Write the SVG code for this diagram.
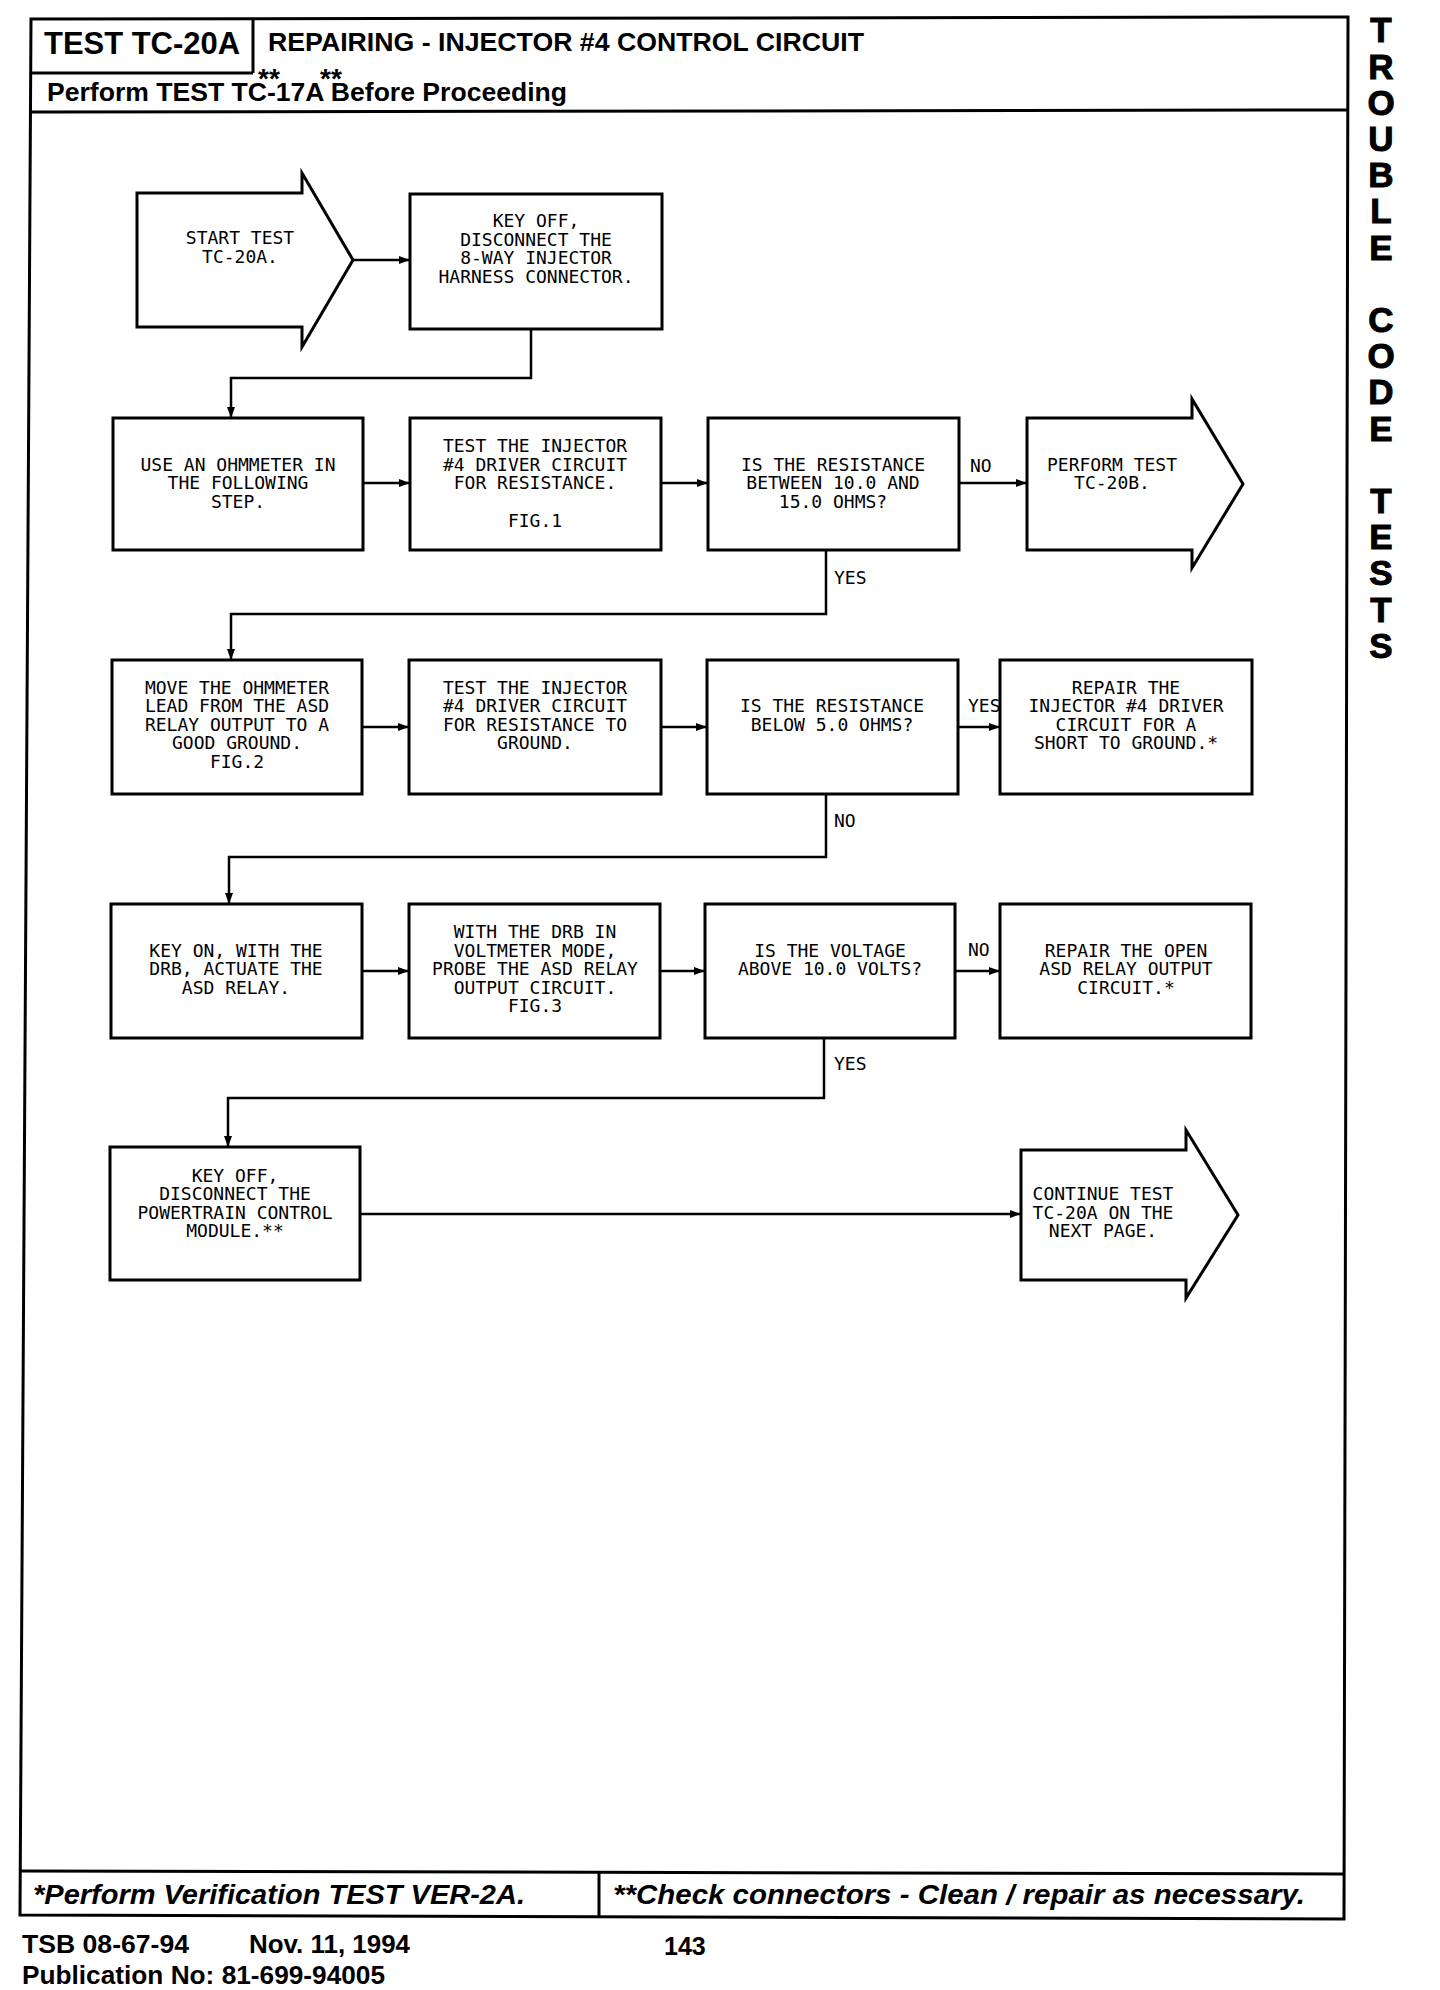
<svg xmlns="http://www.w3.org/2000/svg" width="1440" height="1990" viewBox="0 0 1440 1990">
<style>
.frame{fill:none;stroke:#000;stroke-width:3}
.box{fill:#fff;stroke:#000;stroke-width:3}
.conn{fill:none;stroke:#000;stroke-width:2.5}
.t{font-family:"DejaVu Sans Mono","Liberation Mono",monospace;font-size:18px;fill:#000;text-anchor:middle}
.lbl{font-family:"DejaVu Sans Mono","Liberation Mono",monospace;font-size:18px;fill:#000}
.hb{font-family:"Liberation Sans",Arial,sans-serif;font-weight:bold;fill:#000}
.fi{font-family:"Liberation Sans",Arial,sans-serif;font-weight:bold;font-style:italic;fill:#000;font-size:27px}
.side{font-family:"Liberation Sans",Arial,sans-serif;font-weight:bold;font-size:35px;fill:#000;text-anchor:middle;stroke:#000;stroke-width:1}
</style>
<defs>
<marker id="ah" markerUnits="userSpaceOnUse" markerWidth="11" markerHeight="8" refX="11" refY="4" orient="auto">
<path d="M0,0 L11,4 L0,8 z" fill="#000"/>
</marker>
</defs>
<rect width="1440" height="1990" fill="#fff"/>

<g id="frame">
<path class="frame" d="M31,19 L1348,17 L1344,1919 L20,1915 Z"/>
<line class="frame" x1="31" y1="73" x2="253" y2="73"/>
<line class="frame" x1="253" y1="19" x2="253" y2="73"/>
<line class="frame" x1="31" y1="112" x2="1348" y2="110"/>
<line class="frame" x1="20" y1="1871" x2="1344" y2="1874"/>
<line class="frame" x1="599" y1="1872" x2="599" y2="1917"/>
</g>

<g id="header">
<text class="hb" x="44" y="54" font-size="32" textLength="196" lengthAdjust="spacingAndGlyphs">TEST TC-20A</text>
<text class="hb" x="268" y="51" font-size="25" textLength="596" lengthAdjust="spacingAndGlyphs">REPAIRING - INJECTOR #4 CONTROL CIRCUIT</text>
<text class="hb" x="47" y="101" font-size="26" textLength="520" lengthAdjust="spacingAndGlyphs">Perform TEST TC-17A Before Proceeding</text>
<text class="hb" x="258" y="88" font-size="28">**</text>
<text class="hb" x="320" y="88" font-size="28">**</text>
</g>

<g id="sidebar">
<text class="side" x="1381" y="42">T</text>
<text class="side" x="1381" y="79">R</text>
<text class="side" x="1381" y="115">O</text>
<text class="side" x="1381" y="151">U</text>
<text class="side" x="1381" y="187">B</text>
<text class="side" x="1381" y="223">L</text>
<text class="side" x="1381" y="260">E</text>
<text class="side" x="1381" y="332">C</text>
<text class="side" x="1381" y="368">O</text>
<text class="side" x="1381" y="404">D</text>
<text class="side" x="1381" y="441">E</text>
<text class="side" x="1381" y="513">T</text>
<text class="side" x="1381" y="549">E</text>
<text class="side" x="1381" y="585">S</text>
<text class="side" x="1381" y="622">T</text>
<text class="side" x="1381" y="658">S</text>
</g>

<g id="connectors">
<line class="conn" x1="353" y1="260" x2="410" y2="260" marker-end="url(#ah)"/>
<polyline class="conn" points="531,329 531,378 231,378 231,418" marker-end="url(#ah)"/>
<line class="conn" x1="363" y1="483" x2="410" y2="483" marker-end="url(#ah)"/>
<line class="conn" x1="661" y1="483" x2="708" y2="483" marker-end="url(#ah)"/>
<line class="conn" x1="959" y1="483" x2="1027" y2="483" marker-end="url(#ah)"/>
<polyline class="conn" points="826,550 826,614 231,614 231,660" marker-end="url(#ah)"/>
<line class="conn" x1="362" y1="727" x2="409" y2="727" marker-end="url(#ah)"/>
<line class="conn" x1="661" y1="727" x2="707" y2="727" marker-end="url(#ah)"/>
<line class="conn" x1="958" y1="727" x2="1000" y2="727" marker-end="url(#ah)"/>
<polyline class="conn" points="826,794 826,857 229,857 229,904" marker-end="url(#ah)"/>
<line class="conn" x1="362" y1="971" x2="409" y2="971" marker-end="url(#ah)"/>
<line class="conn" x1="660" y1="971" x2="705" y2="971" marker-end="url(#ah)"/>
<line class="conn" x1="955" y1="971" x2="1000" y2="971" marker-end="url(#ah)"/>
<polyline class="conn" points="824,1038 824,1098 228,1098 228,1147" marker-end="url(#ah)"/>
<line class="conn" x1="360" y1="1214" x2="1021" y2="1214" marker-end="url(#ah)"/>
<text class="lbl" x="970" y="472">NO</text>
<text class="lbl" x="834" y="584">YES</text>
<text class="lbl" x="968" y="712">YES</text>
<text class="lbl" x="834" y="827">NO</text>
<text class="lbl" x="968" y="956">NO</text>
<text class="lbl" x="834" y="1070">YES</text>
</g>

<g id="start">
<path class="box" d="M137,193 L302,193 L302,173 L353,260 L302,347 L302,327 L137,327 Z"/>
<text class="t" x="240" y="244">START TEST</text>
<text class="t" x="240" y="263">TC-20A.</text>
</g>

<g id="keyoff1">
<rect class="box" x="410" y="194" width="252" height="135"/>
<text class="t" x="536" y="227">KEY OFF,</text>
<text class="t" x="536" y="246">DISCONNECT THE</text>
<text class="t" x="536" y="264">8-WAY INJECTOR</text>
<text class="t" x="536" y="283">HARNESS CONNECTOR.</text>
</g>

<g id="ohmmeter">
<rect class="box" x="113" y="418" width="250" height="132"/>
<text class="t" x="238" y="471">USE AN OHMMETER IN</text>
<text class="t" x="238" y="489">THE FOLLOWING</text>
<text class="t" x="238" y="508">STEP.</text>
</g>

<g id="test1">
<rect class="box" x="410" y="418" width="251" height="132"/>
<text class="t" x="535" y="452">TEST THE INJECTOR</text>
<text class="t" x="535" y="471">#4 DRIVER CIRCUIT</text>
<text class="t" x="535" y="489">FOR RESISTANCE.</text>
<text class="t" x="535" y="527">FIG.1</text>
</g>

<g id="q1">
<rect class="box" x="708" y="418" width="251" height="132"/>
<text class="t" x="833" y="471">IS THE RESISTANCE</text>
<text class="t" x="833" y="489">BETWEEN 10.0 AND</text>
<text class="t" x="833" y="508">15.0 OHMS?</text>
</g>

<g id="tc20b">
<path class="box" d="M1027,418 L1192,418 L1192,399 L1243,484 L1192,568 L1192,550 L1027,550 Z"/>
<text class="t" x="1112" y="471">PERFORM TEST</text>
<text class="t" x="1112" y="489">TC-20B.</text>
</g>

<g id="move">
<rect class="box" x="112" y="660" width="250" height="134"/>
<text class="t" x="237" y="694">MOVE THE OHMMETER</text>
<text class="t" x="237" y="712">LEAD FROM THE ASD</text>
<text class="t" x="237" y="731">RELAY OUTPUT TO A</text>
<text class="t" x="237" y="749">GOOD GROUND.</text>
<text class="t" x="237" y="768">FIG.2</text>
</g>

<g id="test2">
<rect class="box" x="409" y="660" width="252" height="134"/>
<text class="t" x="535" y="694">TEST THE INJECTOR</text>
<text class="t" x="535" y="712">#4 DRIVER CIRCUIT</text>
<text class="t" x="535" y="731">FOR RESISTANCE TO</text>
<text class="t" x="535" y="749">GROUND.</text>
</g>

<g id="q2">
<rect class="box" x="707" y="660" width="251" height="134"/>
<text class="t" x="832" y="712">IS THE RESISTANCE</text>
<text class="t" x="832" y="731">BELOW 5.0 OHMS?</text>
</g>

<g id="repair1">
<rect class="box" x="1000" y="660" width="252" height="134"/>
<text class="t" x="1126" y="694">REPAIR THE</text>
<text class="t" x="1126" y="712">INJECTOR #4 DRIVER</text>
<text class="t" x="1126" y="731">CIRCUIT FOR A</text>
<text class="t" x="1126" y="749">SHORT TO GROUND.*</text>
</g>

<g id="keyon">
<rect class="box" x="111" y="904" width="251" height="134"/>
<text class="t" x="236" y="957">KEY ON, WITH THE</text>
<text class="t" x="236" y="975">DRB, ACTUATE THE</text>
<text class="t" x="236" y="994">ASD RELAY.</text>
</g>

<g id="probe">
<rect class="box" x="409" y="904" width="251" height="134"/>
<text class="t" x="535" y="938">WITH THE DRB IN</text>
<text class="t" x="535" y="957">VOLTMETER MODE,</text>
<text class="t" x="535" y="975">PROBE THE ASD RELAY</text>
<text class="t" x="535" y="994">OUTPUT CIRCUIT.</text>
<text class="t" x="535" y="1012">FIG.3</text>
</g>

<g id="q3">
<rect class="box" x="705" y="904" width="250" height="134"/>
<text class="t" x="830" y="957">IS THE VOLTAGE</text>
<text class="t" x="830" y="975">ABOVE 10.0 VOLTS?</text>
</g>

<g id="repair2">
<rect class="box" x="1000" y="904" width="251" height="134"/>
<text class="t" x="1126" y="957">REPAIR THE OPEN</text>
<text class="t" x="1126" y="975">ASD RELAY OUTPUT</text>
<text class="t" x="1126" y="994">CIRCUIT.*</text>
</g>

<g id="keyoff2">
<rect class="box" x="110" y="1147" width="250" height="133"/>
<text class="t" x="235" y="1182">KEY OFF,</text>
<text class="t" x="235" y="1200">DISCONNECT THE</text>
<text class="t" x="235" y="1219">POWERTRAIN CONTROL</text>
<text class="t" x="235" y="1237">MODULE.**</text>
</g>

<g id="continue">
<path class="box" d="M1021,1150 L1186,1150 L1186,1130 L1238,1215 L1186,1298 L1186,1280 L1021,1280 Z"/>
<text class="t" x="1103" y="1200">CONTINUE TEST</text>
<text class="t" x="1103" y="1219">TC-20A ON THE</text>
<text class="t" x="1103" y="1237">NEXT PAGE.</text>
</g>

<g id="footer">
<text class="fi" x="33" y="1904" textLength="492" lengthAdjust="spacingAndGlyphs">*Perform Verification TEST VER-2A.</text>
<text class="fi" x="613" y="1904" textLength="692" lengthAdjust="spacingAndGlyphs">**Check connectors - Clean / repair as necessary.</text>
<text class="hb" x="22" y="1953" font-size="25" textLength="167" lengthAdjust="spacingAndGlyphs">TSB 08-67-94</text>
<text class="hb" x="249" y="1953" font-size="25" textLength="161" lengthAdjust="spacingAndGlyphs">Nov. 11, 1994</text>
<text class="hb" x="664" y="1955" font-size="25">143</text>
<text class="hb" x="22" y="1984" font-size="25" textLength="363" lengthAdjust="spacingAndGlyphs">Publication No:  81-699-94005</text>
</g>
</svg>
